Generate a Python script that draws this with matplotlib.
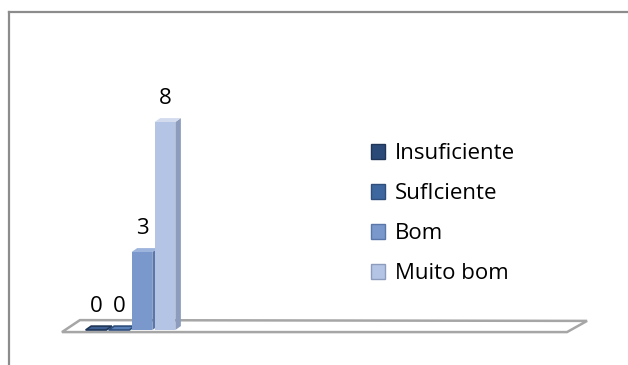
import matplotlib.pyplot as plt
from matplotlib.patches import Polygon, Rectangle, Patch
from matplotlib.lines import Line2D

plt.rcParams['font.family'] = ['Open Sans', 'DejaVu Sans']

categories = ['Insuficiente', 'SufIciente', 'Bom', 'Muito bom']
values = [0, 0, 3, 8]
front_colors = ['#2b4a78', '#3f679f', '#7b98cd', '#b4c4e4']
side_colors = ['#1f3658', '#2e4e7c', '#5b76a8', '#8d9cbc']
top_colors = ['#3d5f92', '#5a80b8', '#9db4dc', '#d3dcee']

W, H = 628, 365
fig = plt.figure(figsize=(W / 100, H / 100), dpi=100)
ax = fig.add_axes([0, 0, 1, 1])
ax.set_xlim(-96 / 23, (W - 96) / 23)
ax.set_ylim(-35 / 26, 330 / 26)
ax.axis('off')

# outer chart border (only left and top edges visible)
fig.add_artist(Line2D([9 / W, 9 / W], [0, 1 - 12 / H], transform=fig.transFigure,
                      color='#8c8c8c', lw=1.6))
fig.add_artist(Line2D([9 / W, 1], [1 - 12 / H, 1 - 12 / H], transform=fig.transFigure,
                      color='#8c8c8c', lw=1.6))

# floor of the 3d plot
floor = Polygon([(-1.48, -0.08), (-0.70, 0.38), (21.35, 0.35), (20.48, -0.08)],
                closed=True, facecolor='white', edgecolor='#a6a6a6', lw=1.8, zorder=1)
ax.add_patch(floor)

bw = 0.9      # front face width
dx, dy = 0.24, 0.15   # depth offset

for i, (v, fc, sc, tc) in enumerate(zip(values, front_colors, side_colors, top_colors)):
    x0 = i - bw / 2
    x1 = i + bw / 2
    # side face
    ax.add_patch(Polygon([(x1, 0), (x1 + dx, dy), (x1 + dx, v + dy), (x1, v)],
                         closed=True, facecolor=sc, edgecolor='none', zorder=2 + i))
    # front face
    ax.add_patch(Rectangle((x0, 0), bw, v, facecolor=fc, edgecolor='none', zorder=2 + i))
    # top face
    ax.add_patch(Polygon([(x0, v), (x0 + dx, v + dy), (x1 + dx, v + dy), (x1, v)],
                         closed=True, facecolor=tc, edgecolor=sc if v == 0 else 'none',
                         lw=1.2, zorder=2 + i))
    ax.text(i + 0.03, v + 0.5, str(v), ha='center', va='bottom', fontsize=16,
            color='black', zorder=10)

handles = [Patch(facecolor=c, edgecolor=s) for c, s in zip(front_colors, side_colors)]
fig.legend(handles, categories, loc='upper left', bbox_to_anchor=(360 / W, 1 - 132 / H),
           frameon=False, fontsize=16, handlelength=0.63, handleheight=0.63,
           handletextpad=0.45, labelspacing=0.86, borderpad=0)

fig.savefig('out.png', dpi=100)
